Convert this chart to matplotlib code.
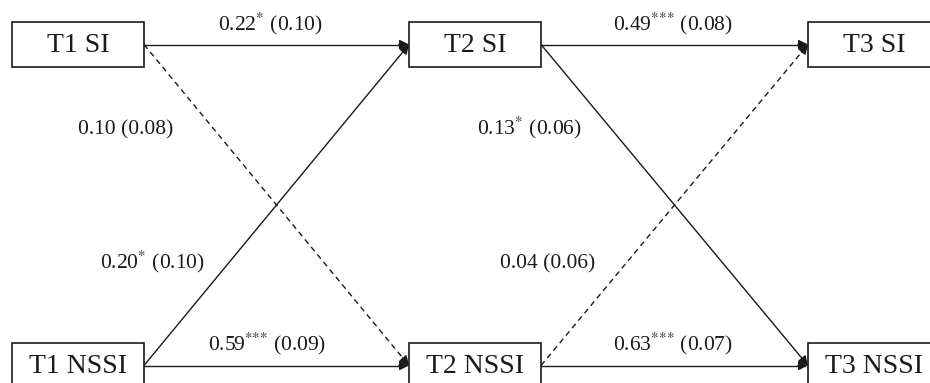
import matplotlib
matplotlib.use("Agg")
import matplotlib.pyplot as plt
from matplotlib.patches import Rectangle, FancyArrowPatch

# data
nodes = ["T1 SI", "T2 SI", "T3 SI", "T1 NSSI", "T2 NSSI", "T3 NSSI"]
path_from = ["T1 SI", "T1 SI", "T1 NSSI", "T1 NSSI", "T2 SI", "T2 SI", "T2 NSSI", "T2 NSSI"]
path_to = ["T2 SI", "T2 NSSI", "T2 SI", "T2 NSSI", "T3 SI", "T3 NSSI", "T3 SI", "T3 NSSI"]
estimates = [0.22, 0.10, 0.20, 0.59, 0.49, 0.13, 0.04, 0.63]
std_err = [0.10, 0.08, 0.10, 0.09, 0.08, 0.06, 0.06, 0.07]
stars = ["*", "", "*", "***", "***", "*", "", "***"]

# layout (pixel space)
box_x = {"T1": 12, "T2": 409, "T3": 808}
box_y = {"SI": 22, "NSSI": 343}
box_w, box_h = 132, 45
label_xy = [(270, 30), (126, 134), (152, 268), (267, 350),
            (673, 30), (529, 134), (548, 268), (673, 350)]

plt.rcParams["font.family"] = ["Liberation Serif", "DejaVu Serif"]
plt.rcParams["mathtext.fontset"] = "stix"
ink = "#1a1a1a"

fig = plt.figure(figsize=(9.3, 3.83), dpi=100)
ax = fig.add_axes([0, 0, 1, 1])
ax.set_xlim(0, 930); ax.set_ylim(383, 0); ax.axis("off")

def box(name):
    t, v = name.split(" ")
    return box_x[t], box_y[v]

for n in nodes:
    x, y = box(n)
    ax.add_patch(Rectangle((x, y), box_w, box_h, facecolor="white", edgecolor=ink, lw=1.2, zorder=3))
    ax.text(x + box_w / 2, y + box_h / 2 + 1, n, ha="center", va="center", fontsize=20, color=ink, zorder=4)

for a, b, est, se, st, (lx, ly) in zip(path_from, path_to, estimates, std_err, stars, label_xy):
    x0, y0 = box(a); x1, y1 = box(b)
    p0 = (x0 + box_w, y0 + box_h / 2); p1 = (x1, y1 + box_h / 2)
    dashed = st == ""
    dx, dy = p1[0] - p0[0], p1[1] - p0[1]
    L = (dx ** 2 + dy ** 2) ** 0.5
    pm = (p1[0] - dx / L * 10, p1[1] - dy / L * 10)
    ax.plot([p0[0], pm[0]], [p0[1], pm[1]], color=ink, lw=1.0,
            ls=(0, (4, 3)) if dashed else "-", zorder=2)
    ax.add_patch(FancyArrowPatch(pm, p1, arrowstyle="-|>", mutation_scale=14,
                                 shrinkA=0, shrinkB=0, color=ink, lw=1.0, zorder=2))
    sup = "$^{" + "".join("{*}" for _ in st) + "}$" if st else ""
    ax.text(lx, ly, f"{est:.2f}{sup} ({se:.2f})", ha="center", va="baseline",
            fontsize=15.5, color=ink, zorder=4)

fig.savefig("out.png", dpi=100, facecolor="white")
